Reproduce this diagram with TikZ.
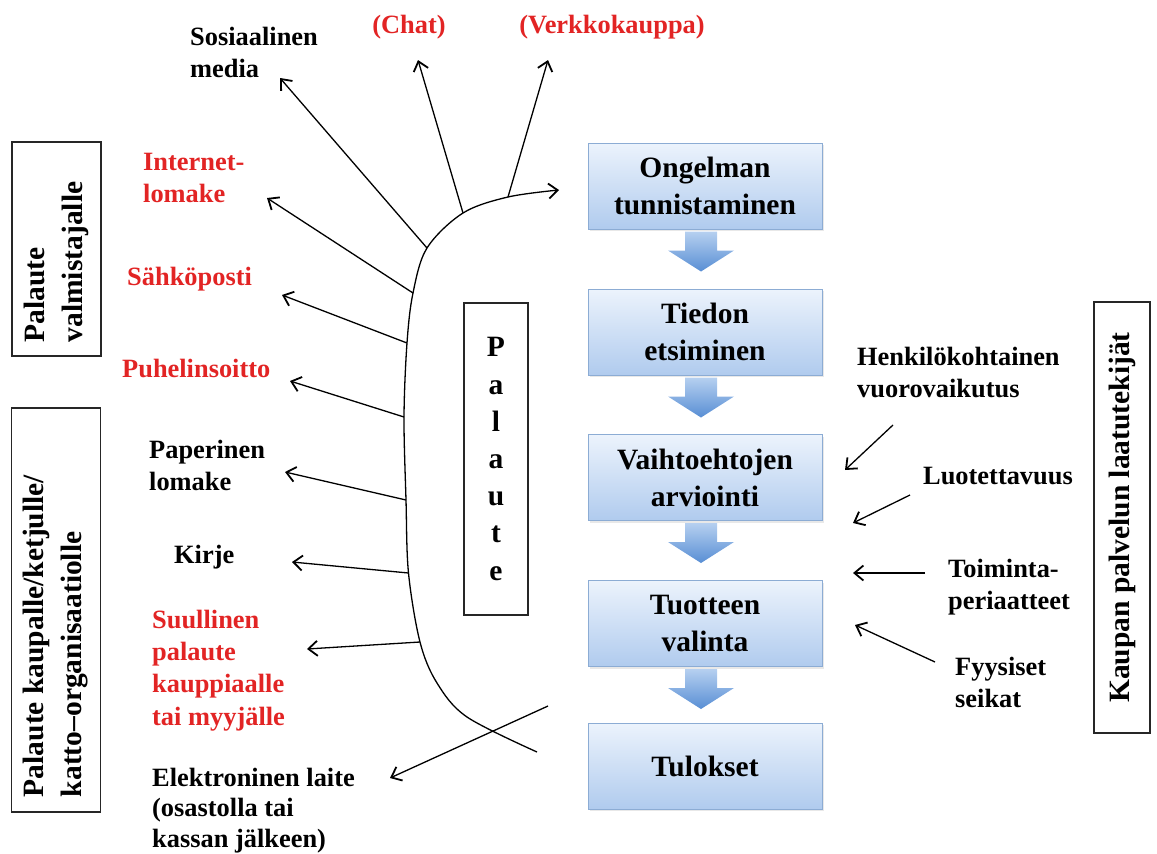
\documentclass[tikz,border=0pt]{standalone}
\usepackage{fontspec}
\setmainfont{Liberation Serif}
\usetikzlibrary{arrows.meta,shadows}
\definecolor{boxtop}{RGB}{236,243,252}
\definecolor{boxbot}{RGB}{176,203,238}
\definecolor{boxborder}{RGB}{140,172,212}
\definecolor{arrtop}{RGB}{182,208,240}
\definecolor{arrbot}{RGB}{88,142,212}
\definecolor{lblred}{RGB}{226,36,36}
\begin{document}
\begin{tikzpicture}[x=1pt,y=-1pt,
  flowbox/.style={draw=boxborder, line width=1pt, top color=boxtop, bottom color=boxbot,
    minimum width=234, minimum height=86, inner sep=0pt, align=center,
    font=\bfseries\fontsize{29.5}{37}\selectfont,
    drop shadow={opacity=0.18, shadow xshift=1.5pt, shadow yshift=-2pt}},
  flowarrow/.style={top color=arrtop, bottom color=arrbot, draw=none},
  framebox/.style={draw=black!85, line width=1.3pt, inner sep=0pt, align=left,
    font=\bfseries\fontsize{29.5}{38}\selectfont},
  lbl/.style={inner sep=0pt, align=left, font=\bfseries\fontsize{26.4}{31.5}\selectfont},
  redlbl/.style={lbl, text=lblred},
  arr/.style={line width=1.3pt, -{Straight Barb[length=9pt,width=15pt,line width=1.8pt]}},
  curveline/.style={line width=1.3pt}
]
\useasboundingbox (0,0) rectangle (1157,854);

% flow boxes
\node[flowbox] (b1) at (705,186) {Ongelman\\tunnistaminen};
\node[flowbox] (b2) at (705,332) {Tiedon\\etsiminen};
\node[flowbox] (b3) at (705,477.5) {Vaihtoehtojen\\arviointi};
\node[flowbox] (b4) at (705,623.5) {Tuotteen\\valinta};
\node[flowbox] (b5) at (705,766) {Tulokset};

\foreach \a in {b1,b2,b3,b4}{
  \path[flowarrow, shift={(\a.south)}]
    (-20,2) -- (12,2) -- (12,21) -- (29,21) -- (-4,42) -- (-37,21) -- (-20,21) -- cycle;
}

% framed vertical boxes
\node[framebox, rotate=90, minimum width=214, minimum height=89] (fValm) at (56.5,249)
  {Palaute\\valmistajalle\hspace*{26pt}};
\node[framebox, rotate=90, minimum width=404, minimum height=89] (fKaup) at (56,610)
  {Palaute kaupalle/ketjulle/\hspace*{52pt}\\katto–organisaatiolle};
\node[framebox, rotate=90, minimum width=431, minimum height=56, align=center] (fLaatu) at (1122,517.5)
  {Kaupan palvelun laatutekijät};
\node[framebox, minimum width=64, minimum height=312, align=center,
  font=\bfseries\fontsize{29.5}{37.2}\selectfont] (fPal) at (496,459)
  {P\\a\\l\\a\\u\\t\\e};

% curve points
\coordinate (cBot) at (537,752);
\coordinate (cA) at (467,717);
\coordinate (cB) at (437,683);
\coordinate (bSuu) at (420,642);
\coordinate (bKir) at (408.5,573);
\coordinate (bPap) at (406,500);
\coordinate (bPuh) at (404,417);
\coordinate (bSah) at (407,343);
\coordinate (bInt) at (413,293);
\coordinate (bSos) at (427,248);
\coordinate (bChat) at (463,213);
\coordinate (bVerk) at (508,197);
\coordinate (cTop) at (559,190);

\draw[curveline, -{Straight Barb[length=9pt,width=15pt,line width=1.8pt]}]
  plot[smooth, tension=0.55] coordinates {(cBot) (cA) (cB) (bSuu) (bKir) (bPap) (bPuh) (bSah) (bInt) (bSos) (bChat) (bVerk) (cTop)};

% labels (base anchor = baseline of the last line)
\node[lbl, anchor=base west] (lSos) at (190,77) {Sosiaalinen\\media};
\node[redlbl, anchor=base] (lChat) at (409,33) {(Chat)};
\node[redlbl, anchor=base] (lVerk) at (612,33) {(Verkkokauppa)};
\node[redlbl, anchor=base west] (lInt) at (143,202) {Internet-\\lomake};
\node[redlbl, anchor=base west] (lSah) at (127,285) {Sähköposti};
\node[redlbl, anchor=base west] (lPuh) at (122,377) {Puhelinsoitto};
\node[lbl, anchor=base west] (lPap) at (149,490) {Paperinen\\lomake};
\node[lbl, anchor=base west] (lKir) at (174,563) {Kirje};
\node[redlbl, anchor=base west, font=\bfseries\fontsize{26.4}{32.3}\selectfont] (lSuu) at (152,725)
  {Suullinen\\palaute\\kauppiaalle\\tai myyjälle};
\node[lbl, anchor=base west, font=\bfseries\fontsize{26.4}{30.5}\selectfont] (lEle) at (152,847)
  {Elektroninen laite\\(osastolla tai\\kassan jälkeen)};
\node[lbl, anchor=base west] (lHen) at (857,397) {Henkilökohtainen\\vuorovaikutus};
\node[lbl, anchor=base west] (lLuo) at (923,484) {Luotettavuus};
\node[lbl, anchor=base west] (lToi) at (948,609) {Toiminta-\\periaatteet};
\node[lbl, anchor=base west] (lFyy) at (955,707) {Fyysiset\\seikat};

% arrow ends
\coordinate (tSos) at (280,78);
\coordinate (tChat) at (418,60);
\coordinate (tVerk) at (548,60);
\coordinate (tInt) at (267,198);
\coordinate (tSah) at (282,295);
\coordinate (tPuh) at (290,381);
\coordinate (tPap) at (285,472);
\coordinate (tKir) at (292,562);
\coordinate (tSuu) at (307,649);
\coordinate (sEle) at (548,706);
\coordinate (tEle) at (390,778);

\draw[arr] (bSos) -- (tSos);
\draw[arr] (bChat) -- (tChat);
\draw[arr] (bVerk) -- (tVerk);
\draw[arr] (bInt) -- (tInt);
\draw[arr] (bSah) -- (tSah);
\draw[arr] (bPuh) -- (tPuh);
\draw[arr] (bPap) -- (tPap);
\draw[arr] (bKir) -- (tKir);
\draw[arr] (bSuu) -- (tSuu);
\draw[arr] (sEle) -- (tEle);

% right-side arrows
\coordinate (sHen) at (893,425);
\coordinate (tHen) at (845,470);
\coordinate (sLuo) at (910,495);
\coordinate (tLuo) at (853,523);
\coordinate (sToi) at (925,573);
\coordinate (tToi) at (853,573);
\coordinate (sFyy) at (935,662);
\coordinate (tFyy) at (855,625);
\draw[arr] (sHen) -- (tHen);
\draw[arr] (sLuo) -- (tLuo);
\draw[arr] (sToi) -- (tToi);
\draw[arr] (sFyy) -- (tFyy);
\end{tikzpicture}
\end{document}
